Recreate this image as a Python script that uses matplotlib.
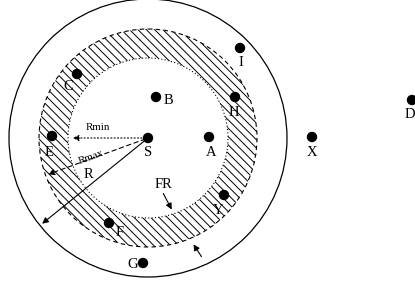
import matplotlib
matplotlib.use("Agg")
import matplotlib.pyplot as plt
from matplotlib.patches import Circle, Annulus
import numpy as np

# Node positions (pixel coords of the drawing)
names = ['S', 'A', 'B', 'C', 'E', 'F', 'G', 'H', 'I', 'Y', 'X', 'D']
xs = [148, 209, 156, 77, 52, 109, 143, 235, 240, 224, 312, 412]
ys = [138, 137, 97, 74, 136, 223, 263, 97, 48, 195, 137, 100]
# label anchor positions
lx = [148, 211, 164, 68, 49, 120, 138, 234, 241, 218, 312, 410]
ly = [153, 152, 100, 87, 152, 233, 264, 112, 62, 210, 152, 114]
lha = ['center', 'center', 'left', 'center', 'center', 'center', 'right',
       'center', 'center', 'center', 'center', 'center']

# Radii
R = 139
Rmax = 109
Rmin = 80
# angles (deg, screen, measured below the left horizontal) for radius arrows
ang_rmax = 20
ang_r = 39

fig = plt.figure(figsize=(4.15, 2.84), dpi=100)
ax = fig.add_axes([0, 0, 1, 1])
ax.set_xlim(0, 415)
ax.set_ylim(284, 0)
ax.axis('off')
plt.rcParams['hatch.linewidth'] = 0.7

cx, cy = xs[0], ys[0]

ax.add_patch(Annulus((cx, cy), Rmax, Rmax - Rmin, fill=False, hatch='\\' * 4,
                     edgecolor='black', linewidth=0))
ax.add_patch(Circle((cx, cy), R, fill=False, color='black', lw=0.9))
ax.add_patch(Circle((cx, cy), Rmax, fill=False, color='black', lw=0.8, ls=(0, (4, 3))))
ax.add_patch(Circle((cx, cy), Rmin, fill=False, color='black', lw=0.8, ls=(0, (1, 2))))

arrow = dict(arrowstyle='-|>', color='black', lw=0.8, mutation_scale=9)

# Rmin
ax.annotate('', xy=(cx - Rmin + 2, cy), xytext=(cx, cy),
            arrowprops=dict(arrow, ls=(0, (1, 2))))
ax.text(98, 128, 'Rmin', fontsize=7.8, family='Liberation Serif', ha='center', va='center')

# Rmax
t = np.radians(ang_rmax)
ax.annotate('', xy=(cx - Rmax * np.cos(t), cy + Rmax * np.sin(t)), xytext=(cx, cy),
            arrowprops=dict(arrow, ls=(0, (4, 3))))
ax.text(91, 157, 'Rmax', fontsize=7.8, family='Liberation Serif', ha='center', va='center',
        rotation=ang_rmax)

# R
t = np.radians(ang_r)
ax.annotate('', xy=(cx - R * np.cos(t), cy + R * np.sin(t)), xytext=(cx, cy),
            arrowprops=arrow)
ax.text(88, 175, 'R', fontsize=10.5, family='Liberation Serif', ha='center', va='center')

# FR
ax.text(163, 184, 'FR', fontsize=10.5, family='Liberation Serif', ha='center', va='center')
ax.annotate('', xy=(173, 212), xytext=(162, 191), arrowprops=arrow)
ax.annotate('', xy=(192, 242), xytext=(203, 259), arrowprops=arrow)

for n, x, y, tx, ty, ha in zip(names, xs, ys, lx, ly, lha):
    ax.add_patch(Circle((x, y), 4.5, color='black'))
    ax.text(tx, ty, n, fontsize=10.5, family='Liberation Serif', ha=ha, va='center')

fig.savefig('out.png', dpi=100)
